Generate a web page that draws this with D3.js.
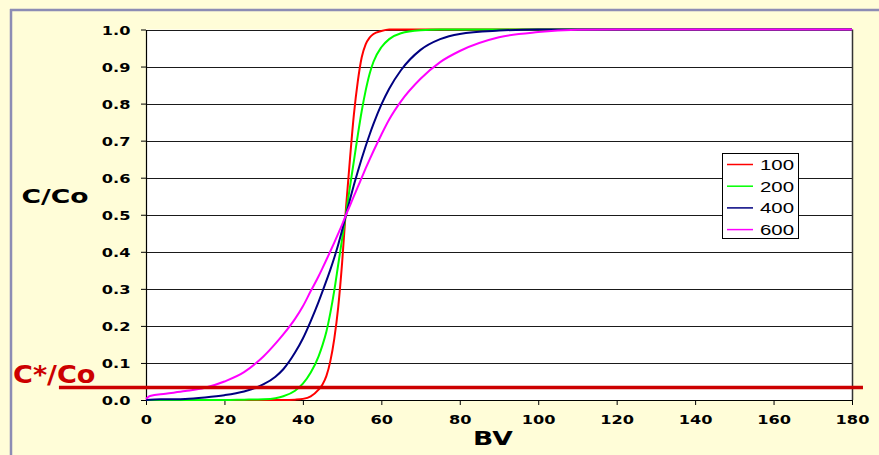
<!DOCTYPE html>
<html>
<head>
<meta charset="utf-8">
<script src="https://cdn.jsdelivr.net/npm/d3@7/dist/d3.min.js"></script>
<style>
  html, body { margin: 0; padding: 0; background: #FFFDD8; }
  svg { display: block; }
</style>
</head>
<body>
<svg id="chart" width="879" height="455"></svg>
<script>
// ---- data ----
const bv = [0,1,5,10,15,20,25,28,30,33,35,38,40,42,44,45,46,47,48,49,50,51,52,53,54,55,56,57,58,60,62,65,70,75,80,90,100,110,120,180];
const c100 = [0,0,0,0,0,0,0,0,0,0,0,0.001,0.003,0.01,0.028,0.042,0.065,0.105,0.165,0.25,0.37,0.52,0.65,0.77,0.86,0.925,0.96,0.978,0.988,0.996,1,1,1,1,1,1,1,1,1,1];
const c200 = [0,0,0,0,0,0,0.001,0.0015,0.002,0.005,0.01,0.025,0.044,0.074,0.118,0.148,0.185,0.235,0.295,0.365,0.435,0.505,0.575,0.645,0.715,0.78,0.835,0.88,0.913,0.952,0.974,0.99,0.998,1,1,1,1,1,1,1];
const c400 = [0,0.001,0.002,0.003,0.007,0.013,0.023,0.033,0.0426,0.063,0.083,0.128,0.166,0.213,0.265,0.293,0.322,0.352,0.384,0.419,0.458,0.50,0.541,0.58,0.617,0.652,0.685,0.716,0.745,0.797,0.84,0.89,0.945,0.974,0.988,0.997,1,1,1,1];
const c600 = [0.003,0.011,0.017,0.024,0.033,0.05,0.075,0.099,0.118,0.152,0.177,0.219,0.253,0.294,0.334,0.356,0.3785,0.4015,0.425,0.449,0.4735,0.50,0.525,0.55,0.575,0.60,0.625,0.649,0.672,0.716,0.757,0.806,0.867,0.912,0.942,0.979,0.993,0.999,1,1];
const seriesNames = ["100","200","400","600"];
const seriesColors = ["#FF0000","#00FF00","#000080","#FF00FF"];
const seriesValues = [c100, c200, c400, c600];
const xTicks = [0,20,40,60,80,100,120,140,160,180];
const yTicks = [0,0.1,0.2,0.3,0.4,0.5,0.6,0.7,0.8,0.9,1.0];
const cStar = 0.034;
const cStarSpan = [-22.2, 182.8];
const yTitle = "C/Co";
const xTitle = "BV";
const cStarLabel = "C*/Co";

// ---- layout ----
const svg = d3.select("#chart");
const W = 879, H = 455;
const x = d3.scaleLinear().domain([0,180]).range([146, 852]);
const y = d3.scaleLinear().domain([0,1]).range([400, 29.5]);
const SX = 1.35; // horizontal stretch of the reference's lettering

svg.append("rect").attr("width", W).attr("height", H).attr("fill", "#FFFDD8");
// outer frame
svg.append("line").attr("x1", 10).attr("x2", W).attr("y1", 10).attr("y2", 10)
  .attr("stroke", "#8C8CB4").attr("stroke-width", 2.5);
svg.append("line").attr("x1", 11).attr("x2", 11).attr("y1", 9).attr("y2", H)
  .attr("stroke", "#8C8CB4").attr("stroke-width", 2.5);

// plot area
svg.append("rect").attr("x", x(0)).attr("y", y(1)).attr("width", x(180)-x(0)).attr("height", y(0)-y(1))
  .attr("fill", "#FFFFFF");

// gridlines
svg.append("g").selectAll("line").data(yTicks.filter(d => d > 0)).join("line")
  .attr("x1", x(0)).attr("x2", x(180))
  .attr("y1", d => Math.round(y(d)) + 0.5).attr("y2", d => Math.round(y(d)) + 0.5)
  .attr("stroke", "#1a1a1a").attr("stroke-width", 1);
// right border
svg.append("line").attr("x1", x(180)+0.5).attr("x2", x(180)+0.5).attr("y1", y(1)).attr("y2", y(0))
  .attr("stroke", "#333").attr("stroke-width", 1.5);

// axes
const yAxis = svg.append("g").attr("transform", `translate(${x(0)},0)`)
  .call(d3.axisLeft(y).tickValues(yTicks).tickSize(5).tickSizeOuter(0).tickFormat(d3.format(".1f")));
const xAxis = svg.append("g").attr("transform", `translate(0,${y(0)})`)
  .call(d3.axisBottom(x).tickValues(xTicks).tickSize(5).tickSizeOuter(0).tickFormat(d3.format("d")));
[yAxis, xAxis].forEach(a => {
  a.select(".domain").attr("stroke", "#000").attr("stroke-width", 1.2);
  a.selectAll(".tick line").attr("stroke", "#000");
  a.selectAll("text").attr("font-family", "DejaVu Sans").attr("font-weight", "bold")
    .attr("font-size", 12).attr("fill", "#000");
});
yAxis.selectAll(".tick text").attr("x", null).attr("dy", null)
  .attr("transform", `translate(-15.5,4.5) scale(${SX},1)`).attr("text-anchor", "end");
xAxis.selectAll(".tick text").attr("y", null).attr("dy", null)
  .attr("transform", `translate(0,24) scale(${SX},1)`).attr("text-anchor", "middle");

// curves
const line = d3.line().x(d => x(d[0])).y(d => y(d[1])).curve(d3.curveMonotoneX);
seriesValues.forEach((vals, i) => {
  svg.append("path").datum(bv.map((b, j) => [b, vals[j]]))
    .attr("d", line).attr("fill", "none")
    .attr("stroke", seriesColors[i]).attr("stroke-width", 2);
});

// C*/Co line
svg.append("line").attr("x1", x(cStarSpan[0])).attr("x2", x(cStarSpan[1]))
  .attr("y1", y(cStar)).attr("y2", y(cStar))
  .attr("stroke", "#CC0000").attr("stroke-width", 3.5);

function stretchedText(tx, ty, str, opts) {
  return svg.append("text")
    .attr("transform", `translate(${tx},${ty}) scale(${opts.sx || SX},1)`)
    .attr("text-anchor", opts.anchor || "start")
    .attr("font-family", opts.family || "DejaVu Sans")
    .attr("font-weight", opts.weight || "bold")
    .attr("font-size", opts.size)
    .attr("fill", opts.fill || "#000")
    .text(str);
}
stretchedText(13, 383, cStarLabel, {size: 24, fill: "#CC0000", sx: 1.13});
stretchedText(55, 203, yTitle, {size: 19, anchor: "middle", sx: 1.4});
stretchedText(493, 445, xTitle, {size: 19, anchor: "middle", sx: 1.4});

// legend
const lg = svg.append("g");
lg.append("rect").attr("x", 722.5).attr("y", 153.5).attr("width", 76).attr("height", 85)
  .attr("fill", "#fff").attr("stroke", "#000").attr("stroke-width", 1);
seriesNames.forEach((n, i) => {
  const cy = 164.5 + i * 21.7;
  lg.append("line").attr("x1", 727).attr("x2", 753).attr("y1", cy).attr("y2", cy)
    .attr("stroke", seriesColors[i]).attr("stroke-width", 1.5);
  lg.append("text").attr("transform", `translate(760,${cy + 5.5}) scale(1.36,1)`)
    .attr("font-family", "Liberation Sans").attr("font-size", 15).attr("fill", "#000").text(n);
});
</script>
</body>
</html>
